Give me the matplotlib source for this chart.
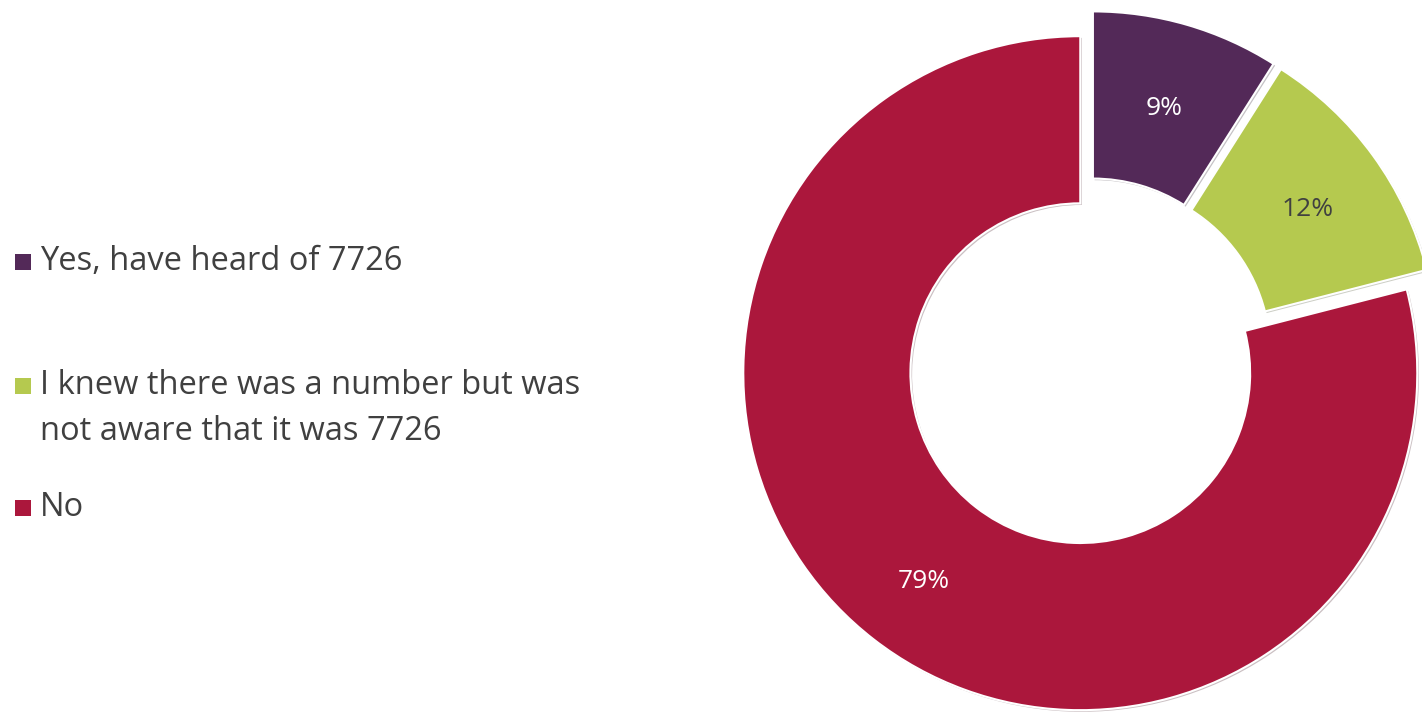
import textwrap
import matplotlib
matplotlib.use('Agg')
import matplotlib.pyplot as plt
import matplotlib.patheffects as pe
from matplotlib.patches import Rectangle

plt.rcParams['font.family'] = ['Open Sans', 'DejaVu Sans']

labels  = ['Yes, have heard of 7726',
           'I knew there was a number but was not aware that it was 7726',
           'No']
values  = [9, 12, 79]
colors  = ['#532958', '#b5c94f', '#ab173c']
pct_col = ['white', '#404040', 'white']
TEXT    = '#404040'

fig = plt.figure(figsize=(14.22, 7.13), dpi=100)
fig.patch.set_facecolor('white')

# donut, all slices pulled out a little
ax = fig.add_axes([0.5051, -0.0276, 0.5214, 1.0398])
wedges, _, autotexts = ax.pie(
    values, colors=colors, startangle=90, counterclock=False,
    explode=[0.042] * len(values), radius=1.0,
    autopct='%d%%', pctdistance=0.76,
    wedgeprops=dict(width=0.496, edgecolor='white', linewidth=1.5),
    textprops=dict(fontsize=19))
for w in wedges:
    w.set_path_effects([pe.SimplePatchShadow(offset=(1.2, -1.2), alpha=0.25),
                        pe.Normal()])
for t, c in zip(autotexts, pct_col):
    t.set_color(c)
    x, y = t.get_position()
    t.set_position((x, y - 0.018))
ax.set_xlim(-1.1, 1.1)
ax.set_ylim(-1.1, 1.1)
ax.set_aspect('equal')
ax.axis('off')

# legend on the left
W, H = 1422, 713
rows_y = [262, 386, 508]   # first-line centre of each entry, px from top
for lab, col, y in zip(labels, colors, rows_y):
    fig.patches.append(Rectangle((15 / W, 1 - (y + 8) / H), 16 / W, 16 / H,
                                 transform=fig.transFigure, facecolor=col,
                                 edgecolor='none'))
    fig.text(40 / W, 1 - (y - 17) / H, textwrap.fill(lab, 33),
             fontsize=23.5, color=TEXT, ha='left', va='top', linespacing=1.5)

plt.savefig('out.png', dpi=100, facecolor='white')
